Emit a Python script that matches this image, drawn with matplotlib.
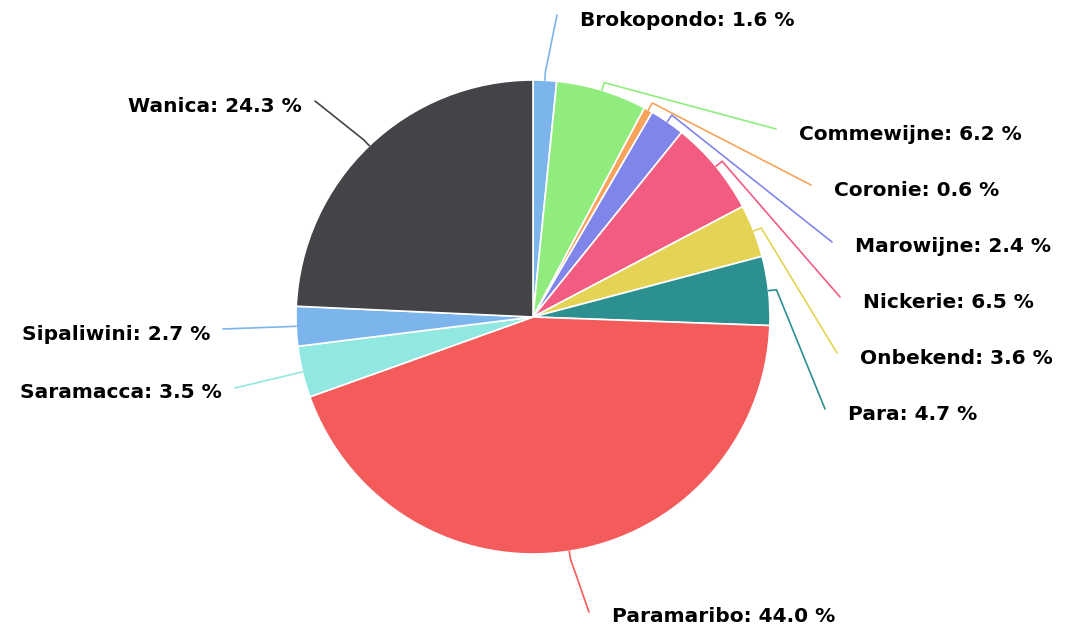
import numpy as np
import matplotlib
matplotlib.use('Agg')
import matplotlib.pyplot as plt

districts = ['Brokopondo', 'Commewijne', 'Coronie', 'Marowijne', 'Nickerie', 'Onbekend',
             'Para', 'Paramaribo', 'Saramacca', 'Sipaliwini', 'Wanica']
shares = [1.6, 6.2, 0.6, 2.4, 6.5, 3.6, 4.7, 44.0, 3.5, 2.7, 24.3]
colors = ['#7cb5ec', '#90ed7d', '#f7a35c', '#8085e9', '#f15c80', '#e4d354',
          '#2b908f', '#f45b5b', '#91e8e1', '#7cb5ec', '#434348']

# label placement in pixel coords (x, y from top), side of text
label_pos = {
    'Brokopondo': (580, 20, 'left'),
    'Commewijne': (799, 134, 'left'),
    'Coronie': (834, 190, 'left'),
    'Marowijne': (855, 247, 'left'),
    'Nickerie': (863, 302, 'left'),
    'Onbekend': (860, 358, 'left'),
    'Para': (848, 414, 'left'),
    'Paramaribo': (612, 617, 'left'),
    'Saramacca': (222, 393, 'right'),
    'Sipaliwini': (210, 334, 'right'),
    'Wanica': (302, 106, 'right'),
}

W, H = 1072, 627
cx, cy, R = 533, H - 317, 237

fig = plt.figure(figsize=(W / 100, H / 100), dpi=100)
ax = fig.add_axes([0, 0, 1, 1])

wedges, _ = ax.pie(shares, colors=colors, startangle=90, counterclock=False,
                   center=(cx, cy), radius=R,
                   wedgeprops=dict(edgecolor='white', linewidth=1.2))
ax.set_xlim(0, W)
ax.set_ylim(0, H)
ax.set_aspect('equal')
ax.axis('off')

total = sum(shares)
cum = 0
for name, val, col in zip(districts, shares, colors):
    mid = 90 - 360 * (cum + val / 2) / total
    cum += val
    a = np.radians(mid)
    x0, y0 = cx + R * np.cos(a), cy + R * np.sin(a)
    x1, y1 = cx + (R + 8) * np.cos(a), cy + (R + 8) * np.sin(a)
    lx, ly, side = label_pos[name]
    ly = H - ly
    if side == 'left':
        ex = lx - 23
    else:
        ex = lx + 13
    ax.plot([x0, x1, ex], [y0, y1, ly + 5], color=col, linewidth=1.2,
            solid_capstyle='round', solid_joinstyle='round')
    ax.text(lx, ly, f'{name}: {val:.1f} %', ha=side, va='center',
            fontsize=14.5, fontweight='bold', color='black', family='DejaVu Sans')

fig.savefig('out.png', dpi=100)
